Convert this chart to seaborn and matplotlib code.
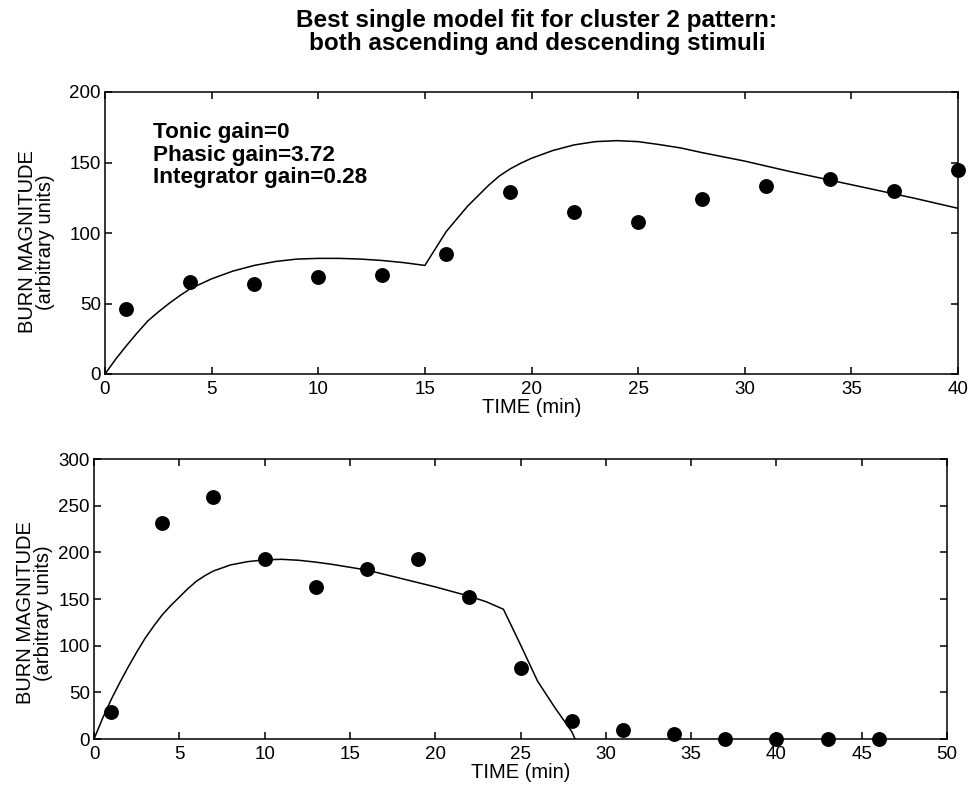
import matplotlib
matplotlib.use("Agg")
import matplotlib.pyplot as plt
import seaborn as sns
import pandas as pd

# ---- data: top panel (ascending stimulus) ----
top_obs_t = [1, 4, 7, 10, 13, 16, 19, 22, 25, 28, 31, 34, 37, 40]
top_obs_y = [46, 65, 64, 69, 70, 85, 129, 115, 108, 124, 133, 138, 130, 145]
top_fit_t = [0, 0.5, 1, 1.5, 2, 2.5, 3, 3.5, 4, 4.5, 5, 6, 7, 8, 9, 10, 11, 12, 13, 14, 15,
             15.5, 16, 17, 18, 18.5, 19, 19.5, 20, 21, 22, 23, 24, 25, 26, 27, 28, 30, 32,
             34, 36, 38, 40]
top_fit_y = [0, 10.5, 20, 29, 37.5, 44, 50, 55.5, 60.5, 64, 67.5, 73, 77, 79.8, 81.5, 82,
             82, 81.5, 80.5, 79, 77, 89, 101, 119, 134, 140.5, 145.5, 149.5, 153, 158.5,
             162.5, 164.8, 165.5, 164.8, 162.7, 160.3, 157, 151, 144, 137.5, 131, 124.5,
             117.5]

# ---- data: bottom panel (descending stimulus) ----
bot_obs_t = [1, 4, 7, 10, 13, 16, 19, 22, 25, 28, 31, 34, 37, 40, 43, 46]
bot_obs_y = [29, 231, 259, 193, 163, 182, 193, 152, 76, 19, 10, 5, 0, 0, 0, 0]
bot_fit_t = [0, 0.5, 1, 1.5, 2, 2.5, 3, 3.5, 4, 4.5, 5, 5.5, 6, 6.5, 7, 8, 9, 10, 11, 12,
             13, 14, 15, 16, 18, 20, 22, 23, 24, 25, 26, 27, 28, 28.2]
bot_fit_y = [0, 22, 42, 60, 77, 93, 108, 121, 133, 143, 152, 161, 169, 175, 180, 186.5,
             190, 192, 192.5, 191.5, 189.5, 187, 184, 181, 172, 163, 153, 147, 139, 101,
             62, 34, 8, 0]

xlabel = "TIME (min)"
ylabel = "BURN MAGNITUDE\n(arbitrary units)"
title = "Best single model fit for cluster 2 pattern:\nboth ascending and descending stimuli"
annot = "Tonic gain=0\nPhasic gain=3.72\nIntegrator gain=0.28"

sns.set_theme(style="ticks")
plt.rcParams["font.family"] = ["Liberation Sans", "DejaVu Sans"]
plt.rcParams["axes.linewidth"] = 1.1
plt.rcParams["text.color"] = "black"
plt.rcParams["axes.labelcolor"] = "black"

W, H = 969, 788
fig = plt.figure(figsize=(W / 100, H / 100), dpi=100)
fig.patch.set_facecolor("white")


def ax_rect(l, t, r, b):
    return [l / W, 1 - b / H, (r - l) / W, (b - t) / H]


ax1 = fig.add_axes(ax_rect(105, 92, 958, 374))
ax2 = fig.add_axes(ax_rect(94, 459, 947, 739))

top_fit = pd.DataFrame({"t": top_fit_t, "y": top_fit_y})
top_obs = pd.DataFrame({"t": top_obs_t, "y": top_obs_y})
bot_fit = pd.DataFrame({"t": bot_fit_t, "y": bot_fit_y})
bot_obs = pd.DataFrame({"t": bot_obs_t, "y": bot_obs_y})

for ax, fit, obs, xmax, ymax, xstep, ystep in [
    (ax1, top_fit, top_obs, 40, 200, 5, 50),
    (ax2, bot_fit, bot_obs, 50, 300, 5, 50),
]:
    sns.lineplot(data=fit, x="t", y="y", ax=ax, color="black", linewidth=1.1,
                 sort=False, estimator=None)
    sns.scatterplot(data=obs, x="t", y="y", ax=ax, color="black", s=115,
                    edgecolor="black", linewidth=0, clip_on=False, zorder=5)
    ax.set_xlim(0, xmax)
    ax.set_ylim(0, ymax)
    ax.set_xticks(range(0, xmax + 1, xstep))
    ax.set_yticks(range(0, ymax + 1, ystep))
    ax.tick_params(direction="in", length=5, width=1.1, top=True, right=True,
                   labelsize=13.5, colors="black", pad=3)
    ax.tick_params(axis="x", pad=5)
    for s in ax.spines.values():
        s.set_visible(True)
        s.set_color("black")
    ax.set_xlabel(xlabel, fontsize=14.5, labelpad=0, color="black")
    ax.set_ylabel(ylabel, fontsize=14.5, linespacing=0.92, color="black")
    ax.set_facecolor("white")

ax1.yaxis.set_label_coords(-0.059, 0.468)
ax2.yaxis.set_label_coords(-0.048, 0.45)

ax1.text(2.27, 179, annot, fontsize=16.2, fontweight="bold", va="top", ha="left",
         linespacing=1.12, color="black")

fig.text(537 / W, 1 - 9 / H, title, ha="center", va="top", fontsize=17.5,
         fontweight="bold", linespacing=1.02, color="black")

fig.savefig("out.png", dpi=100, facecolor="white")
